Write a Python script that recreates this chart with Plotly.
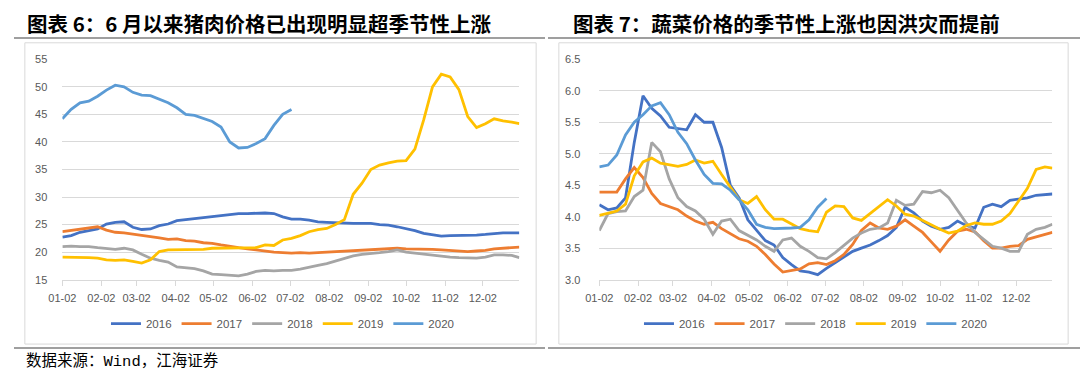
import plotly.graph_objects as go

# ---------------- data ----------------
dates = ["01-02", "01-09", "01-16", "01-23", "01-30", "02-06", "02-13", "02-20", "02-27",
         "03-06", "03-13", "03-20", "03-27", "04-03", "04-10", "04-17", "04-24", "05-01",
         "05-08", "05-15", "05-22", "05-29", "06-05", "06-12", "06-19", "06-26", "07-03",
         "07-10", "07-17", "07-24", "07-31", "08-07", "08-14", "08-21", "08-28", "09-04",
         "09-11", "09-18", "09-25", "10-02", "10-09", "10-16", "10-23", "10-30", "11-06",
         "11-13", "11-20", "11-27", "12-04", "12-11", "12-18", "12-25", "12-31"]

tick_labels = ["01-02", "02-02", "03-02", "04-02", "05-02", "06-02",
               "07-02", "08-02", "09-02", "10-02", "11-02", "12-02"]

years = ["2016", "2017", "2018", "2019", "2020"]
colors = ["#4472C4", "#ED7D31", "#A5A5A5", "#FFC000", "#5B9BD5"]

# Pork price (left chart)
pork_2016 = [22.7, 23.0, 23.6, 23.9, 24.2, 25.1, 25.4, 25.5, 24.5, 24.1,
             24.2, 24.8, 25.1, 25.7, 25.9, 26.0, 26.3, 26.4, 26.7, 26.8,
             27.0, 27.0, 27.1, 27.1, 27.0, 26.4, 26.0,
             26.0, 25.8, 25.5, 25.4, 25.3, 25.3, 25.2, 25.2, 25.2, 25.0,
             24.9, 24.6, 24.3, 23.9, 23.4, 23.2, 22.9, 23.0, 23.0, 23.1,
             23.1, 23.2, 23.4, 23.5, 23.5, 23.5]
pork_2017 = [23.7, 23.9, 24.2, 24.3, 24.6, 24.0, 23.6, 23.5, 23.3, 23.0,
             22.9, 22.6, 22.3, 22.4, 22.1, 22.0, 21.7, 21.6, 21.3, 21.0,
             20.8, 20.6, 20.4, 20.1, 20.0, 19.9, 19.8,
             19.9, 19.8, 19.9, 20.0, 20.1, 20.2, 20.3, 20.4, 20.5, 20.6,
             20.7, 20.7, 20.6, 20.6, 20.6, 20.5, 20.4, 20.3, 20.2, 20.1,
             20.2, 20.3, 20.6, 20.7, 20.8, 20.9]
pork_2018 = [21.0, 21.1, 21.0, 21.0, 20.8, 20.7, 20.5, 20.7, 20.4, 19.6,
             18.9, 18.5, 18.2, 17.3, 17.2, 17.0, 16.6, 16.0, 15.9, 15.8,
             15.7, 16.0, 16.5, 16.7, 16.6, 16.7, 16.7,
             16.9, 17.3, 17.6, 17.9, 18.4, 18.8, 19.3, 19.6, 19.7, 19.9,
             20.1, 20.4, 20.0, 19.8, 19.7, 19.5, 19.3, 19.1, 19.0, 19.0,
             18.9, 19.1, 19.5, 19.5, 19.4, 19.0]
pork_2019 = [19.1, 19.1, 19.1, 19.0, 18.9, 18.6, 18.5, 18.6, 18.3, 18.0,
             18.6, 20.1, 20.4, 20.4, 20.4, 20.5, 20.5, 20.7, 20.7, 20.8,
             20.8, 20.7, 20.8, 21.3, 21.2, 22.2, 22.5,
             23.0, 23.7, 24.1, 24.3, 25.0, 25.9, 30.5, 32.5, 35.0, 35.8,
             36.2, 36.5, 36.6, 38.7, 44.0, 50.0, 52.3, 51.8, 49.5, 44.6,
             42.6, 43.3, 44.2, 43.8, 43.6, 43.3]
pork_2020 = [44.2, 45.9, 47.1, 47.4, 48.3, 49.4, 50.3, 50.0, 49.0, 48.5,
             48.4, 47.7, 47.1, 46.2, 45.0, 44.8, 44.3, 43.7, 42.7, 40.0,
             38.9, 39.0, 39.7, 40.6, 43.0, 45.0, 45.9]

# Vegetable price (right chart)
veg_2016 = [4.19, 4.11, 4.14, 4.30, 5.18, 5.92, 5.72, 5.60, 5.42, 5.40,
            5.38, 5.62, 5.50, 5.50, 5.10, 4.50, 4.30, 3.95, 3.78, 3.62,
            3.55, 3.35, 3.24, 3.14, 3.12, 3.08, 3.18,
            3.27, 3.35, 3.45, 3.50, 3.55, 3.62, 3.70, 3.83, 4.15, 4.06,
            3.93, 3.85, 3.80, 3.83, 3.93, 3.86, 3.82, 4.15, 4.20, 4.16,
            4.26, 4.28, 4.30, 4.34, 4.35, 4.36]
veg_2017 = [4.39, 4.39, 4.39, 4.60, 4.78, 4.62, 4.37, 4.21, 4.16, 4.11,
            4.01, 3.93, 3.88, 3.91, 3.81, 3.73, 3.65, 3.61, 3.53, 3.40,
            3.25, 3.12, 3.14, 3.17, 3.25, 3.27, 3.24,
            3.30, 3.40, 3.56, 3.78, 3.90, 3.82, 3.80, 3.85, 3.95, 3.85,
            3.75, 3.60, 3.45, 3.63, 3.77, 3.80, 3.76, 3.62, 3.50, 3.50,
            3.53, 3.54, 3.64, 3.68, 3.72, 3.75]
veg_2018 = [3.78, 4.05, 4.08, 4.09, 4.32, 4.42, 5.18, 5.03, 4.60, 4.30,
            4.16, 4.09, 3.96, 3.72, 3.93, 3.96, 3.78, 3.70, 3.63, 3.53,
            3.45, 3.63, 3.66, 3.53, 3.45, 3.35, 3.33,
            3.43, 3.55, 3.66, 3.74, 3.80, 3.82, 3.90, 4.26, 4.18, 4.20,
            4.40, 4.38, 4.42, 4.30, 4.10, 3.90, 3.75, 3.64, 3.53, 3.50,
            3.45, 3.45, 3.72, 3.80, 3.83, 3.88]
veg_2019 = [4.02, 4.06, 4.09, 4.20, 4.65, 4.87, 4.93, 4.85, 4.83, 4.80,
            4.83, 4.90, 4.85, 4.88, 4.67, 4.48, 4.27, 4.21, 4.32, 4.11,
            3.96, 3.96, 3.88, 3.81, 3.78, 3.76, 4.07,
            4.17, 4.16, 3.98, 3.94, 4.05, 4.15, 4.27, 4.17, 4.04, 4.01,
            3.94, 3.86, 3.80, 3.74, 3.77, 3.86, 3.90, 3.88, 3.88, 3.93,
            4.05, 4.25, 4.45, 4.75, 4.79, 4.77]
veg_2020 = [4.79, 4.82, 4.98, 5.30, 5.50, 5.62, 5.76, 5.81, 5.62, 5.34,
            5.16, 4.90, 4.67, 4.53, 4.52, 4.42, 4.27, 4.11, 3.88, 3.83,
            3.81, 3.81, 3.82, 3.83, 3.95, 4.15, 4.29]

pork = [pork_2016, pork_2017, pork_2018, pork_2019, pork_2020]
veg = [veg_2016, veg_2017, veg_2018, veg_2019, veg_2020]

title_left = "图表 6：6 月以来猪肉价格已出现明显超季节性上涨"
title_right = "图表 7：蔬菜价格的季节性上涨也因洪灾而提前"
source_text = "数据来源：Wind，江海证券"

# ---------------- figure ----------------
W, H = 1080, 383
x_dates = ["2019-" + d for d in dates]
tick_vals = ["2019-" + t for t in tick_labels]

fig = go.Figure()
for name, col, vals in zip(years, colors, pork):
    fig.add_trace(go.Scatter(x=x_dates[:len(vals)], y=vals, name=name, mode="lines",
                             line=dict(color=col, width=2.8), xaxis="x", yaxis="y",
                             legend="legend", hoverinfo="skip"))
for name, col, vals in zip(years, colors, veg):
    fig.add_trace(go.Scatter(x=x_dates[:len(vals)], y=vals, name=name, mode="lines",
                             line=dict(color=col, width=2.8), xaxis="x2", yaxis="y2",
                             legend="legend2", hoverinfo="skip"))

tickfont = dict(family="Liberation Sans, Arial", size=11, color="#595959")
ydom = [1 - 282.5 / H, 1 - 55 / H]

xcommon = dict(type="date", range=["2019-01-02", "2019-12-31"], tickvals=tick_vals,
               ticktext=tick_labels, showgrid=False, showline=True, linecolor="#d9d9d9",
               linewidth=1, ticks="outside", ticklen=5, tickcolor="#d9d9d9",
               tickfont=tickfont, zeroline=False, fixedrange=True, ticklabelstandoff=3)
ycommon = dict(showgrid=True, gridcolor="#d9d9d9", gridwidth=1, showline=False,
               zeroline=False, ticks="", tickfont=tickfont, domain=ydom, fixedrange=True)

legend_common = dict(orientation="h", xanchor="center", yanchor="middle",
                     y=1 - 328 / H, font=dict(family="Liberation Sans, Arial", size=11.5,
                                             color="#595959"),
                     bgcolor="rgba(0,0,0,0)", itemwidth=30, tracegroupgap=0)

fig.update_layout(
    width=W, height=H, autosize=False,
    margin=dict(l=0, r=0, t=0, b=0),
    paper_bgcolor="white", plot_bgcolor="white",
    xaxis=dict(domain=[49 / W, 512 / W], anchor="y", **xcommon),
    yaxis=dict(range=[15, 55], dtick=5, tick0=15, anchor="x", ticklabelstandoff=14,
               **ycommon),
    xaxis2=dict(domain=[593 / W, 1052 / W], anchor="y2", **xcommon),
    yaxis2=dict(range=[3.0, 6.5], dtick=0.5, tick0=3.0, tickformat=".1f", anchor="x2",
                ticklabelstandoff=18, **ycommon),
    legend=dict(x=272 / W, **legend_common),
    legend2=dict(x=812 / W, **legend_common),
    showlegend=True,
)

shapes = [
    # chart frames
    dict(type="rect", xref="paper", yref="paper", x0=11 / W, x1=529 / W,
         y0=1 - 349 / H, y1=1 - 38 / H, line=dict(color="#d9d9d9", width=1)),
    dict(type="rect", xref="paper", yref="paper", x0=552 / W, x1=1068 / W,
         y0=1 - 349 / H, y1=1 - 38 / H, line=dict(color="#d9d9d9", width=1)),
    # separator lines
    dict(type="line", xref="paper", yref="paper", x0=0, x1=538 / W,
         y0=1 - 33 / H, y1=1 - 33 / H, line=dict(color="#7f7f7f", width=1.5)),
    dict(type="line", xref="paper", yref="paper", x0=541 / W, x1=1,
         y0=1 - 33 / H, y1=1 - 33 / H, line=dict(color="#7f7f7f", width=1.5)),
    dict(type="line", xref="paper", yref="paper", x0=0, x1=538 / W,
         y0=1 - 353 / H, y1=1 - 353 / H, line=dict(color="#7f7f7f", width=1.5)),
    dict(type="line", xref="paper", yref="paper", x0=541 / W, x1=1,
         y0=1 - 353 / H, y1=1 - 353 / H, line=dict(color="#7f7f7f", width=1.5)),
]
fig.update_layout(shapes=shapes)

title_font = dict(family="Noto Sans CJK SC", size=20.5, color="#000000")
fig.add_annotation(text="<b>" + title_left + "</b>", xref="paper", yref="paper",
                   x=11 / W, y=1 - 18 / H, xanchor="left", yanchor="middle", align="left",
                   showarrow=False, font=title_font)
fig.add_annotation(text="<b>" + title_right + "</b>", xref="paper", yref="paper",
                   x=564 / W, y=1 - 18 / H, xanchor="left", yanchor="middle", align="left",
                   showarrow=False, font=title_font)
fig.add_annotation(text=source_text, xref="paper", yref="paper",
                   x=10 / W, y=1 - 367 / H, xanchor="left", yanchor="middle", align="left",
                   showarrow=False,
                   font=dict(family="Liberation Mono, Noto Sans CJK SC", size=15.5,
                             color="#000000"))

fig.write_html("out.html", config={"displayModeBar": False},
               post_script="document.body.style.margin='0';"
                           "document.body.style.overflow='hidden';")
